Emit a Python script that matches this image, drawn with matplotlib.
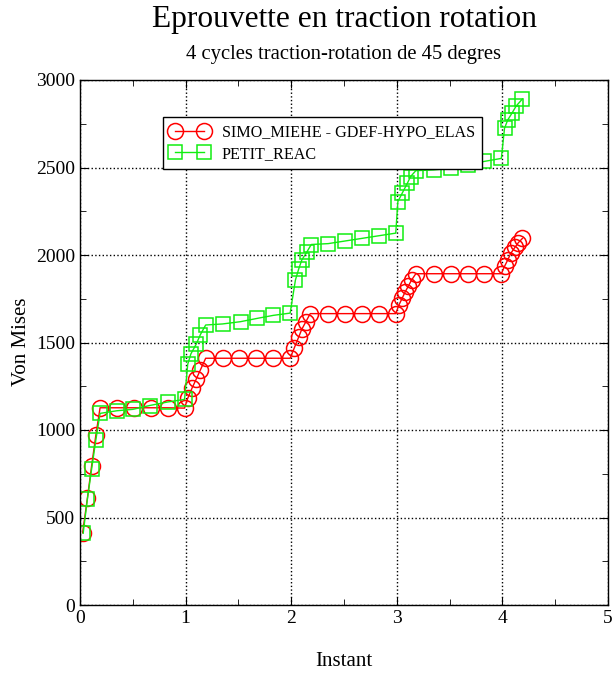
import numpy as np
import matplotlib
matplotlib.use("Agg")
import matplotlib.pyplot as plt
from matplotlib.ticker import MultipleLocator

plt.rcParams['font.family'] = ['Liberation Serif', 'DejaVu Serif']

# SIMO_MIEHE - GDEF-HYPO_ELAS
red_t = [0.025, 0.07, 0.11, 0.15, 0.19, 0.35, 0.51, 0.67, 0.83, 0.99,
         1.02, 1.06, 1.10, 1.14, 1.19, 1.35, 1.51, 1.67, 1.83, 1.99,
         2.03, 2.07, 2.10, 2.14, 2.18, 2.35, 2.51, 2.67, 2.83, 2.99,
         3.02, 3.05, 3.08, 3.11, 3.14, 3.18, 3.35, 3.51, 3.67, 3.83, 3.99,
         4.02, 4.05, 4.08, 4.12, 4.15, 4.19]
red_v = [413, 610, 795, 970, 1127, 1127, 1127, 1127, 1127, 1125,
         1181, 1238, 1290, 1343, 1410, 1410, 1410, 1410, 1410, 1410,
         1470, 1530, 1575, 1620, 1665, 1665, 1665, 1665, 1665, 1665,
         1714, 1752, 1790, 1823, 1857, 1893, 1893, 1893, 1893, 1893, 1893,
         1935, 1971, 2010, 2045, 2070, 2095]

# PETIT_REAC
green_t = [0.03, 0.07, 0.11, 0.15, 0.19, 0.35, 0.50, 0.66, 0.83, 0.99,
           1.02, 1.05, 1.10, 1.14, 1.19, 1.35, 1.52, 1.68, 1.83, 1.99,
           2.04, 2.07, 2.10, 2.15, 2.19, 2.35, 2.51, 2.67, 2.83, 2.99,
           3.01, 3.05, 3.10, 3.13, 3.18, 3.35, 3.51, 3.67, 3.83, 3.99,
           4.02, 4.05, 4.09, 4.13, 4.19]
green_v = [410, 605, 777, 943, 1095, 1110, 1118, 1140, 1160, 1175,
           1375, 1435, 1490, 1545, 1600, 1606, 1619, 1638, 1655, 1668,
           1857, 1918, 1971, 2019, 2060, 2065, 2080, 2095, 2110, 2125,
           2305, 2352, 2410, 2448, 2482, 2486, 2495, 2514, 2535, 2552,
           2724, 2771, 2810, 2851, 2892]

fig = plt.figure(figsize=(6.12, 6.77), dpi=100)
ax = fig.add_axes([80/612, 1 - 605/677, 528/612, 525/677])

ax.plot(red_t, red_v, color='#ff0000', lw=1.0, marker='o', ms=11.5,
        mfc='none', mec='#ff0000', mew=1.1, label='SIMO_MIEHE - GDEF-HYPO_ELAS')
ax.plot(green_t, green_v, color='#11ee11', lw=1.0, marker='s', ms=10,
        mfc='none', mec='#11ee11', mew=1.1, label='PETIT_REAC')

ax.set_xlim(0, 5)
ax.set_ylim(0, 3000)
ax.xaxis.set_major_locator(MultipleLocator(1))
ax.xaxis.set_minor_locator(MultipleLocator(0.5))
ax.yaxis.set_major_locator(MultipleLocator(500))
ax.yaxis.set_minor_locator(MultipleLocator(250))
ax.tick_params(which='both', direction='in', top=True, right=True, labelsize=14)
ax.tick_params(which='major', length=6)
ax.tick_params(which='minor', length=4)
ax.grid(True, which='major', color='black', linestyle=':', linewidth=1.0)
for s in ax.spines.values():
    s.set_linewidth(1.0)

fig.text(344/612, 1 - 662/677, 'Instant', ha='center', va='center', fontsize=15)
fig.text(22/612, 1 - 342/677, 'Von Mises', ha='center', va='center',
         rotation=90, fontsize=15)

fig.text(344/612, 1 - 20/677, 'Eprouvette en traction rotation', ha='center',
         va='center', fontsize=22.6)
fig.text(344/612, 1 - 55/677, '4 cycles traction-rotation de 45 degres', ha='center',
         va='center', fontsize=14.9)

leg = ax.legend(loc='upper left', bbox_to_anchor=(83/528, (605-117)/525),
                borderaxespad=0, numpoints=2, fontsize=11.6, fancybox=False,
                framealpha=1, edgecolor='black', handlelength=2.4,
                handletextpad=0.8, borderpad=0.45, labelspacing=0.35)
leg.get_frame().set_linewidth(1.0)

fig.savefig('out.png', dpi=100)
